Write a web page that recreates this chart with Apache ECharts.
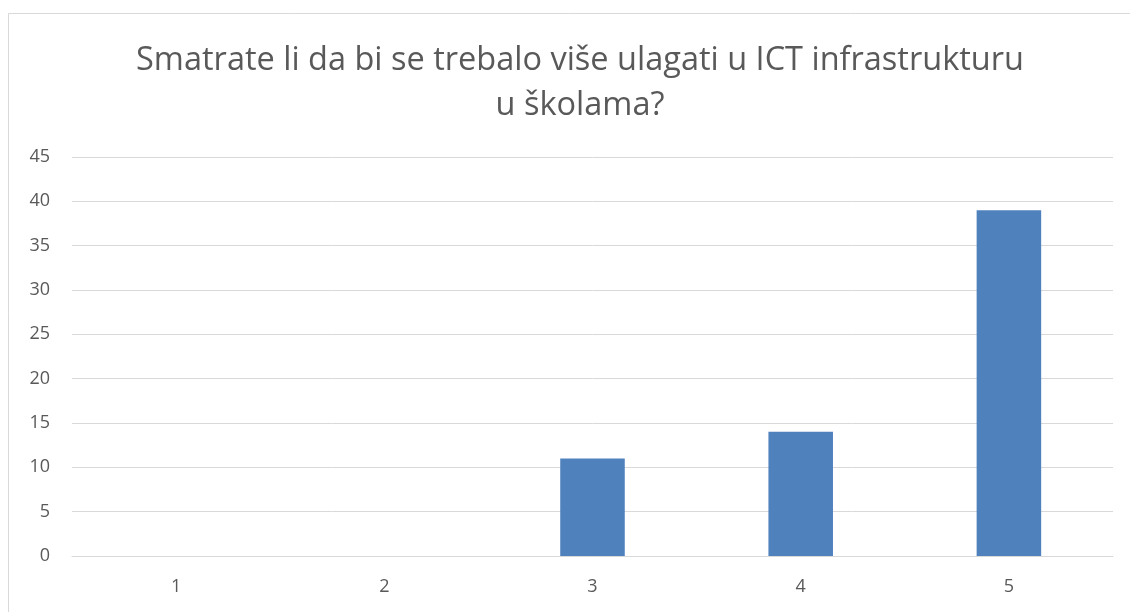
<!DOCTYPE html>
<html><head><meta charset="utf-8">
<script src="https://cdn.jsdelivr.net/npm/echarts@6/dist/echarts.min.js"></script>
<style>html,body{margin:0;padding:0;background:#fff}#c{width:1130px;height:612px}</style>
</head><body><div id="c"></div>
<script>
const titleText = "Smatrate li da bi se trebalo više ulagati u ICT infrastrukturu\nu školama?";
const categories = ["1", "2", "3", "4", "5"];
const values = [0, 0, 11, 14, 39];
const yTicks = {min: 0, max: 45, interval: 5};

const chart = echarts.init(document.getElementById('c'), null, {renderer: 'canvas'});
chart.setOption({
  backgroundColor: '#fff',
  animation: false,
  graphic: [{type: 'rect', shape: {x: 8.5, y: 13.5, width: 1130, height: 620}, style: {fill: 'none', stroke: '#d9d9d9', lineWidth: 1}, silent: true}],
  title: {
    text: titleText, left: 575, top: 33, textAlign: 'center',
    textStyle: {fontFamily: 'Open Sans', fontWeight: 'normal', fontSize: 32.5, color: '#595959', lineHeight: 45}
  },
  grid: {left: 72, right: 17, top: 157, bottom: 56, containLabel: false},
  xAxis: {
    type: 'category', data: categories,
    axisLine: {lineStyle: {color: '#d9d9d9', width: 1}},
    axisTick: {show: false},
    axisLabel: {color: '#595959', fontSize: 18, fontFamily: 'Open Sans', margin: 22}
  },
  yAxis: {
    type: 'value', min: yTicks.min, max: yTicks.max, interval: yTicks.interval,
    axisLine: {show: false}, axisTick: {show: false},
    splitLine: {lineStyle: {color: '#d9d9d9', width: 1}},
    axisLabel: {color: '#595959', fontSize: 18, fontFamily: 'Open Sans', margin: 22}
  },
  series: [{
    type: 'bar', data: values, barWidth: '31%',
    itemStyle: {color: '#4f81bd'}
  }]
});
</script></body></html>
